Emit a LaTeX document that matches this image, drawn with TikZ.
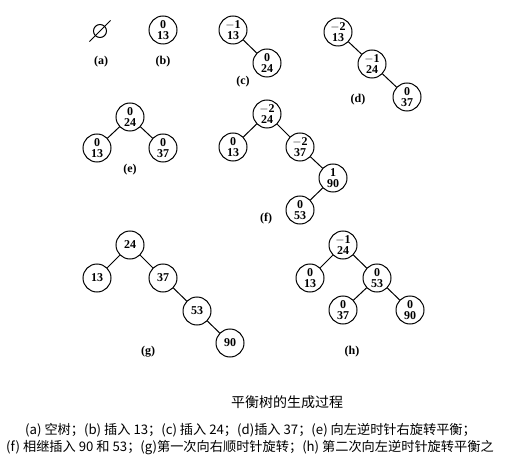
\documentclass[tikz,border=0pt]{standalone}
\usepackage{fontspec}
\setmainfont{Liberation Serif}
\newfontfamily\cjk{Noto Sans CJK SC}
\usepackage{tikz}

\begin{document}
\begin{tikzpicture}[x=1pt, y=-1pt,
    avl/.style={circle, draw, line width=1pt, minimum size=28pt, inner sep=0pt,
      align=center, font=\fontsize{12}{11.5}\selectfont\bfseries},
    key/.style={circle, draw, line width=1pt, minimum size=28pt, inner sep=0pt,
      font=\fontsize{12}{12}\selectfont\bfseries},
    tag/.style={font=\fontsize{12}{12}\selectfont\bfseries},
    link/.style={line width=1pt},
    caption/.style={font=\cjk\fontsize{13.2}{15}\selectfont, anchor=west, inner sep=0pt}]
    \useasboundingbox (0, 0) rectangle (511, 457);

    \node [circle, draw, line width=1pt, minimum size=13pt, inner sep=0pt] (Ea) at (100, 31) {};
    \draw [link, shorten <=-8pt, shorten >=-8pt] (Ea.225) -- (Ea.45);
    \node [tag] (La) at (101, 62) {(a)};

    \node [avl] (Bb) at (163, 30) {0\\13};
    \node [tag] (Lb) at (163, 62) {(b)};

    \node [avl] (Ac) at (233, 30) {$-$1\\13};
    \node [avl] (Bc) at (267, 63) {0\\24};
    \node [tag] (Lc) at (243, 82) {(c)};
    \draw [link] (Ac) -- (Bc);

    \node [avl] (Ad) at (338, 32) {$-$2\\13};
    \node [avl] (Bd) at (372, 64) {$-$1\\24};
    \node [avl] (Cd) at (407, 97) {0\\37};
    \node [tag] (Ld) at (358, 100) {(d)};
    \draw [link] (Ad) -- (Bd) -- (Cd);

    \node [avl] (Ae) at (130, 117) {0\\24};
    \node [avl] (Be) at (97, 148) {0\\13};
    \node [avl] (Ce) at (163, 148) {0\\37};
    \node [tag] (Le) at (130, 170) {(e)};
    \draw [link] (Be) -- (Ae) -- (Ce);

    \node [avl] (Af) at (267, 114) {$-$2\\24};
    \node [avl] (Bf) at (233, 147) {0\\13};
    \node [avl] (Cf) at (300, 147) {$-$2\\37};
    \node [avl] (Df) at (333, 178) {1\\90};
    \node [avl] (Ef) at (300, 210) {0\\53};
    \node [tag] (Lf) at (266, 219) {(f)};
    \draw [link] (Bf) -- (Af) -- (Cf) -- (Df) -- (Ef);

    \node [key] (Ag) at (130, 245) {24};
    \node [key] (Bg) at (97, 278) {13};
    \node [key] (Cg) at (163, 278) {37};
    \node [key] (Dg) at (197, 311) {53};
    \node [key] (Eg) at (230, 343) {90};
    \node [tag] (Lg) at (148, 352) {(g)};
    \draw [link] (Bg) -- (Ag) -- (Cg) -- (Dg) -- (Eg);

    \node [avl] (Ah) at (343, 245) {$-$1\\24};
    \node [avl] (Bh) at (310, 278) {0\\13};
    \node [avl] (Ch) at (377, 278) {0\\53};
    \node [avl] (Dh) at (343, 310) {0\\37};
    \node [avl] (Eh) at (410, 310) {0\\90};
    \node [tag] (Lh) at (352, 352) {(h)};
    \draw [link] (Bh) -- (Ah) -- (Ch) -- (Dh);
    \draw [link] (Ch) -- (Eh);

    \node [font=\cjk\fontsize{14}{14}\selectfont] (title) at (287, 402) {平衡树的生成过程};
    \node [caption] (lineA) at (25, 430)
      {(a) 空树；(b) 插入 13；(c) 插入 24；(d)插入 37；(e) 向左逆时针右旋转平衡；};
    \node [caption] (lineB) at (6, 448)
      {(f) 相继插入 90 和 53；(g)第一次向右顺时针旋转；(h) 第二次向左逆时针旋转平衡之};
\end{tikzpicture}
\end{document}
